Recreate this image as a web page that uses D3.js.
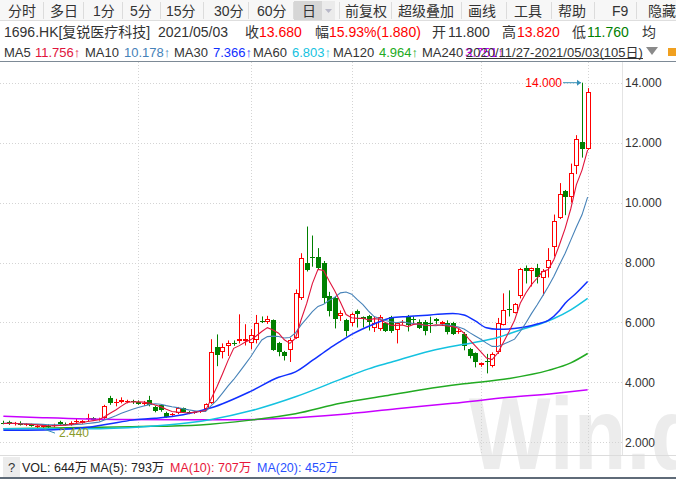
<!DOCTYPE html>
<html><head><meta charset="utf-8">
<script src="https://cdn.jsdelivr.net/npm/d3@7/dist/d3.min.js"></script>
<style>
body{margin:0;background:#fff;}
svg{display:block;font-family:"Liberation Sans","Noto Sans CJK SC",sans-serif;}
</style></head><body>
<svg id="chart" width="676" height="479"></svg>
<script>
// ---------- DATA ----------
const dates = [
"2020/11/27","2020/11/30",
"2020/12/01","2020/12/02","2020/12/03","2020/12/04","2020/12/07","2020/12/08","2020/12/09","2020/12/10","2020/12/11",
"2020/12/14","2020/12/15","2020/12/16","2020/12/17","2020/12/18","2020/12/21","2020/12/22","2020/12/23","2020/12/24",
"2020/12/28","2020/12/29","2020/12/30","2020/12/31",
"2021/01/04","2021/01/05","2021/01/06","2021/01/07","2021/01/08","2021/01/11","2021/01/12","2021/01/13","2021/01/14","2021/01/15",
"2021/01/18","2021/01/19","2021/01/20","2021/01/21","2021/01/22","2021/01/25","2021/01/26","2021/01/27","2021/01/28","2021/01/29",
"2021/02/01","2021/02/02","2021/02/03","2021/02/04","2021/02/05","2021/02/08","2021/02/09","2021/02/10","2021/02/11",
"2021/02/16","2021/02/17","2021/02/18","2021/02/19","2021/02/22","2021/02/23","2021/02/24","2021/02/25","2021/02/26",
"2021/03/01","2021/03/02","2021/03/03","2021/03/04","2021/03/05","2021/03/08","2021/03/09","2021/03/10","2021/03/11","2021/03/12",
"2021/03/15","2021/03/16","2021/03/17","2021/03/18","2021/03/19","2021/03/22","2021/03/23","2021/03/24","2021/03/25","2021/03/26",
"2021/03/29","2021/03/30","2021/03/31",
"2021/04/01","2021/04/07","2021/04/08","2021/04/09","2021/04/12","2021/04/13","2021/04/14","2021/04/15","2021/04/16",
"2021/04/19","2021/04/20","2021/04/21","2021/04/22","2021/04/23","2021/04/26","2021/04/27","2021/04/28","2021/04/29","2021/04/30",
"2021/05/03"];

const openP = [2.66,2.68,2.60,2.66,2.58,2.60,2.50,2.52,2.55,2.55,2.68,2.62,2.57,2.70,2.66,2.80,2.80,2.76,2.80,3.47,
3.35,3.34,3.36,3.38,3.36,3.32,3.40,3.17,3.23,2.97,2.92,2.97,3.13,3.00,2.98,3.02,3.10,3.30,5.17,5.03,
5.20,5.30,5.37,5.37,5.30,5.40,6.05,6.00,6.07,5.30,5.03,5.07,5.48,6.80,8.00,8.20,8.17,8.00,6.87,6.80,
6.20,6.07,5.97,6.37,6.17,6.20,5.80,5.77,5.97,6.17,5.75,5.97,6.17,6.13,6.03,6.03,5.98,6.10,5.95,5.97,
5.97,5.70,5.60,5.13,4.97,4.57,4.70,4.55,5.00,5.93,6.45,6.33,6.87,7.83,7.70,7.80,7.47,7.80,8.53,9.50,
10.37,10.20,11.22,12.03,11.80];
const highP = [2.72,2.72,2.68,2.70,2.64,2.62,2.58,2.56,2.60,2.62,2.72,2.66,2.70,2.80,2.74,2.95,2.84,2.82,3.25,3.55,
3.45,3.50,3.42,3.42,3.40,3.38,3.55,3.22,3.27,3.02,2.98,3.18,3.16,3.04,3.03,3.08,3.30,5.44,5.60,5.30,
5.40,5.40,6.27,5.94,5.78,6.25,6.20,6.22,6.10,5.35,5.05,5.48,7.10,8.31,9.20,8.90,8.48,8.05,7.02,6.85,
6.40,6.12,6.33,6.43,6.20,6.25,6.19,6.25,6.00,6.22,6.00,6.08,6.25,6.20,6.10,6.08,6.19,6.15,6.05,6.07,
6.02,5.78,5.68,5.15,5.00,4.66,4.95,5.00,6.15,6.97,7.07,6.65,7.82,7.90,7.83,7.95,7.78,8.48,9.60,10.65,
10.42,11.30,12.25,14.00,13.82];
const lowP = [2.60,2.58,2.56,2.56,2.54,2.52,2.46,2.44,2.48,2.50,2.58,2.56,2.55,2.62,2.62,2.70,2.72,2.72,2.78,3.25,
3.20,3.30,3.30,3.28,3.25,3.22,3.20,3.00,3.02,2.82,2.88,2.94,2.98,2.94,2.95,2.98,3.06,3.28,4.54,4.80,
4.88,5.22,5.30,5.23,5.10,5.30,5.98,5.95,5.05,4.87,4.73,4.68,5.45,6.75,7.70,7.86,7.75,6.65,6.20,5.80,
6.05,5.53,5.87,5.83,5.83,5.73,5.68,5.72,5.68,5.65,5.30,5.92,5.70,5.95,5.78,5.57,5.65,5.95,5.88,5.60,
5.58,5.62,5.07,4.80,4.50,4.52,4.30,4.50,4.95,5.90,6.20,6.30,6.80,7.30,7.20,7.30,6.90,7.50,8.20,9.45,
9.58,10.00,10.95,11.50,11.76];
const closeP = [2.62,2.62,2.64,2.58,2.60,2.55,2.54,2.55,2.52,2.58,2.62,2.60,2.66,2.70,2.70,2.80,2.76,2.79,3.20,3.30,
3.35,3.40,3.38,3.33,3.28,3.32,3.23,3.05,3.07,2.84,2.94,3.13,3.00,2.97,3.00,3.05,3.27,5.00,4.90,5.17,
5.33,5.28,5.45,5.45,5.58,5.97,6.03,6.10,5.07,5.03,4.87,5.43,6.98,8.14,7.75,8.18,7.80,6.80,6.38,6.10,
6.30,5.73,6.27,6.27,6.13,6.00,5.97,6.17,5.70,5.70,5.97,6.03,5.90,6.07,5.80,5.73,5.95,6.05,6.00,5.67,
5.63,5.70,5.20,4.87,4.67,4.63,4.68,4.95,5.97,6.42,6.43,6.60,7.77,7.70,7.80,7.50,7.73,8.10,9.37,10.30,
10.20,11.00,12.12,11.80,13.68];
// closes of the 9 sessions before the window (for MA5 / MA10)
const priorCloses = [2.62,2.65,2.60,2.66,2.63,2.60,2.64,2.66,2.62];

// longer moving averages as [session index, value]
const ma30Pts = [[0,2.40],[9,2.42],[15,2.50],[19,2.62],[23,2.74],[27,2.80],[32,2.92],[37,3.15],[44,3.70],[49,4.17],[52,4.35],[55,4.73],[58,5.13],[60,5.37],[62,5.60],[66,5.95],[69,6.15],[72,6.20],[76,6.25],[80,6.30],[82,6.25],[84,6.05],[86,5.82],[88,5.77],[92,5.82],[95,5.95],[97,6.07],[99,6.40],[100,6.64],[102,6.98],[104,7.366]];
const ma60Pts = [[0,2.45],[15,2.45],[25,2.52],[33,2.65],[37,2.76],[44,3.05],[52,3.52],[60,4.10],[65,4.45],[69,4.67],[76,5.05],[82,5.27],[85,5.37],[88,5.50],[92,5.75],[96,5.98],[98,6.13],[101,6.42],[104,6.803]];
const ma120Pts = [[0,2.45],[23,2.52],[35,2.58],[44,2.74],[52,2.95],[60,3.30],[68,3.55],[75,3.77],[82,3.95],[90,4.13],[97,4.40],[101,4.65],[104,4.964]];
const ma240Pts = [[0,2.87],[7,2.82],[20,2.76],[40,2.75],[50,2.80],[60,2.93],[70,3.12],[80,3.30],[90,3.50],[98,3.63],[104,3.75]];

const yTicks = [2,4,6,8,10,12,14];

const toolbarLabels = ["分时","多日","1分","5分","15分","30分","60分","日","前复权","超级叠加","画线","工具","帮助","F9","隐藏"];
const stockName = "1696.HK[复锐医疗科技]";
const quote = {date:"2021/05/03", close:"13.680", chg:"15.93%(1.880)", open:"11.800", high:"13.820", low:"11.760"};
const maLegend = [["MA5","11.756↑"],["MA10","10.178↑"],["MA30","7.366↑"],["MA60","6.803↑"],["MA120","4.964↑"],["MA240","3.751↑"]];
const rangeText = "2020/11/27-2021/05/03(105日)";
const volLegend = ["VOL: 644万","MA(5): 793万","MA(10): 707万","MA(20): 452万"];

// ---------- DRAW ----------
const svg = d3.select("#chart");
const W = 676, H = 479;
const plotTop = 61, plotBottom = 455, plotRight = 622;
const RED = "#ff0000", GREEN = "#008000", DARK = "#333333";
const maColors = ["#e0143c","#4682b8","#1030ff","#14c2e0","#22aa22","#c800ff"];

const n = closeP.length;
const x = d3.scaleBand().domain(d3.range(n)).range([0, 591]).padding(0.2);
const cx = i => x(i) + x.bandwidth()/2;
const y = d3.scaleLinear().domain([2,14]).range([442.3, 82.7]);

// watermark
svg.append("text").attr("x",469).attr("y",469)
  .attr("font-size",96).attr("font-weight","bold").attr("fill","#ececec")
  .attr("font-family","Liberation Sans, Arial, sans-serif")
  .attr("transform","translate(469,469) scale(0.9,1.06) translate(-469,-469)")
  .text("Win.d");

// toolbar
svg.append("rect").attr("x",0).attr("y",0).attr("width",W).attr("height",20).attr("fill","#f7f7f7");
svg.append("line").attr("x1",0).attr("x2",W).attr("y1",20.5).attr("y2",20.5).attr("stroke","#dedede");
const tbX = [8,50,93,130,166,214,257,302,345,398,468,514,558,612,648];
const sepX = [43,83,122,160,203,248,293,339,391,461,506,551,594,636];
svg.append("rect").attr("x",294).attr("y",1).attr("width",28).attr("height",19).attr("fill","#d6d6d6");
svg.append("rect").attr("x",322).attr("y",1).attr("width",13).attr("height",19).attr("fill","#ebebeb");
svg.append("path").attr("d","M325,9 L332,9 L328.5,13 Z").attr("fill","#b8b8c8");
svg.selectAll(".sep").data(sepX).join("line")
  .attr("x1",d=>d+0.5).attr("x2",d=>d+0.5).attr("y1",2).attr("y2",19).attr("stroke","#dcdcdc");
svg.selectAll(".tb").data(toolbarLabels).join("text")
  .attr("x",(d,i)=>tbX[i]).attr("y",16).attr("font-size",14).attr("fill",DARK).text(d=>d);

// quote row
const q = svg.append("g").attr("font-size",14);
const qItems = [
  [4,stockName,DARK],[158,quote.date,DARK],[245,"收",DARK],[259,quote.close,RED],[315,"幅",DARK],
  [329,quote.chg,RED],[432,"开",DARK],[448,quote.open,DARK],[502,"高",DARK],[517,quote.high,RED],
  [572,"低",DARK],[587,quote.low,GREEN],[642,"均",DARK]];
q.selectAll("text").data(qItems).join("text")
  .attr("x",d=>d[0]).attr("y",37).attr("fill",d=>d[2]).text(d=>d[1]);

// MA legend row
const lg = svg.append("g").attr("font-size",13);
const lgX = [[4,35],[85,124],[174,213],[253,292],[333,379],[422,465]];
maLegend.forEach((m,i)=>{
  lg.append("text").attr("x",lgX[i][0]).attr("y",57).attr("fill",DARK).text(m[0]);
  lg.append("text").attr("x",lgX[i][1]).attr("y",57).attr("fill",maColors[i]).text(m[1]);
});
lg.append("text").attr("x",466).attr("y",57).attr("fill",DARK).text(rangeText);
svg.append("line").attr("x1",466).attr("x2",643).attr("y1",58.5).attr("y2",58.5).attr("stroke",DARK);
svg.append("path").attr("d","M646,47 L658,47 L652,55 Z").attr("fill","#8a8a8a");
svg.append("rect").attr("x",668).attr("y",48).attr("width",8).attr("height",8).attr("fill","#f0a020");

// frame lines
svg.append("line").attr("x1",0).attr("x2",W).attr("y1",61.5).attr("y2",61.5).attr("stroke","#7d8a96");
svg.append("line").attr("x1",plotRight+0.5).attr("x2",plotRight+0.5).attr("y1",62).attr("y2",plotBottom).attr("stroke","#e4e4e4");
svg.append("line").attr("x1",0).attr("x2",W).attr("y1",plotBottom+0.5).attr("y2",plotBottom+0.5).attr("stroke","#dcdcdc");
svg.append("line").attr("x1",0).attr("x2",W).attr("y1",478).attr("y2",478).attr("stroke","#5f6b78").attr("stroke-width",2);

// grid
svg.append("g").selectAll("line").data(yTicks).join("line")
  .attr("x1",0).attr("x2",plotRight).attr("y1",d=>Math.round(y(d))+0.5).attr("y2",d=>Math.round(y(d))+0.5)
  .attr("stroke","#d4d4d4").attr("stroke-dasharray","1,2");
const monthIdx = d3.range(1,n).filter(i=>dates[i].slice(0,7)!==dates[i-1].slice(0,7) && cx(i)>30);
svg.append("g").selectAll("line").data(monthIdx).join("line")
  .attr("x1",i=>Math.round(cx(i))+0.5).attr("x2",i=>Math.round(cx(i))+0.5).attr("y1",62).attr("y2",plotBottom)
  .attr("stroke","#d4d4d4").attr("stroke-dasharray","1,2");

// y axis
const ax = svg.append("g").attr("transform",`translate(625,0)`)
  .call(d3.axisRight(y).tickValues(yTicks).tickFormat(d3.format(".3f")).tickSize(0).tickPadding(0));
ax.select(".domain").remove();
ax.selectAll("text").attr("font-size",12).attr("fill",DARK).attr("font-family","Liberation Sans, Arial, sans-serif");

// clip
svg.append("clipPath").attr("id","clip").append("rect").attr("x",0).attr("y",62).attr("width",plotRight).attr("height",plotBottom-62);
const plot = svg.append("g").attr("clip-path","url(#clip)");

// moving average lines
const allC = priorCloses.concat(closeP);
const maSeries = p => d3.range(n).map(i=>[i, d3.mean(allC.slice(i+priorCloses.length-p+1, i+priorCloses.length+1))]);
const lineGen = d3.line().x(d=>cx(d[0])).y(d=>y(d[1]));
const curveGen = d3.line().x(d=>cx(d[0])).y(d=>y(d[1])).curve(d3.curveMonotoneX);
const maDefs = [
  [ma240Pts, curveGen, maColors[5], 1.5],
  [ma120Pts, curveGen, maColors[4], 1.5],
  [ma60Pts, curveGen, maColors[3], 1.5],
  [ma30Pts, curveGen, maColors[2], 1.5],
  [maSeries(10), lineGen, maColors[1], 1.1],
  [maSeries(5), lineGen, maColors[0], 1.1]];

// candles
const cg = plot.append("g");
d3.range(n).forEach(i=>{
  const o=openP[i], c=closeP[i], h=highP[i], l=lowP[i];
  const up = c >= o;
  const col = up ? RED : GREEN;
  const xc = Math.round(cx(i)) + 0.5;
  const top = Math.round(y(Math.max(o,c))), bot = Math.round(y(Math.min(o,c)));
  if (up) {
    cg.append("line").attr("x1",xc).attr("x2",xc).attr("y1",y(h)).attr("y2",top).attr("stroke",col);
    cg.append("line").attr("x1",xc).attr("x2",xc).attr("y1",bot).attr("y2",y(l)).attr("stroke",col);
    if (bot - top < 1.5) {
      cg.append("line").attr("x1",xc-2.5).attr("x2",xc+2.5).attr("y1",top+0.5).attr("y2",top+0.5).attr("stroke",col);
    } else {
      cg.append("rect").attr("x",xc-2).attr("y",top+0.5).attr("width",4).attr("height",bot-top-1)
        .attr("fill","#fff").attr("stroke",col);
    }
  } else {
    cg.append("line").attr("x1",xc).attr("x2",xc).attr("y1",y(h)).attr("y2",y(l)).attr("stroke",col);
    cg.append("rect").attr("x",xc-2.5).attr("y",top).attr("width",5).attr("height",Math.max(1,bot-top)).attr("fill",col);
  }
});

plot.append("g").selectAll("path").data(maDefs).join("path")
  .attr("d",d=>d[1](d[0])).attr("fill","none").attr("stroke",d=>d[2]).attr("stroke-width",d=>d[3]);

// high / low markers
const hiIdx = d3.maxIndex(highP), loIdx = d3.minIndex(lowP);
const hx = Math.round(cx(hiIdx)), hy = y(highP[hiIdx]);
svg.append("line").attr("x1",hx-19).attr("x2",hx-1).attr("y1",hy).attr("y2",hy).attr("stroke","#3590b8");
svg.append("path").attr("d",`M${hx-1},${hy} l-4,-3 l0,6 Z`).attr("fill","#3590b8");
svg.append("text").attr("x",hx-20).attr("y",hy+4.5).attr("text-anchor","end").attr("font-size",12)
  .attr("fill",RED).text(d3.format(".3f")(highP[hiIdx]));
const lx = Math.round(cx(loIdx)), ly = y(lowP[loIdx]);
svg.append("line").attr("x1",lx+1).attr("y1",ly).attr("x2",lx+12).attr("y2",ly+4).attr("stroke","#3590b8");
svg.append("text").attr("x",lx+16).attr("y",ly+8).attr("font-size",12)
  .attr("fill","#8a9a2a").text(d3.format(".3f")(lowP[loIdx]));

// volume legend row
svg.append("rect").attr("x",3).attr("y",457).attr("width",17).attr("height",20).attr("fill","#ececec");
svg.append("text").attr("x",8).attr("y",472).attr("font-size",13).attr("fill",DARK).text("?");
const vX = [22,90,170,257], vC = ["#222","#222","#e8173a","#2850ff"];
svg.append("g").selectAll("text").data(volLegend).join("text")
  .attr("x",(d,i)=>vX[i]).attr("y",472).attr("font-size",12.5).attr("fill",(d,i)=>vC[i]).text(d=>d);
</script>
</body></html>
